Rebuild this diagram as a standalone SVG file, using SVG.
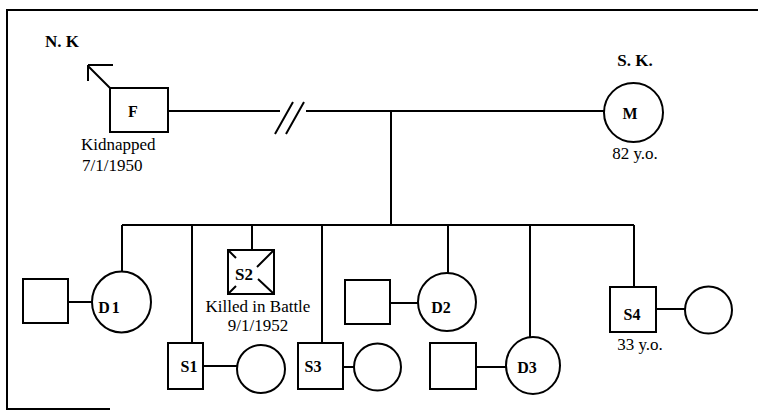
<svg xmlns="http://www.w3.org/2000/svg" width="758" height="411" viewBox="0 0 758 411">
<style>
.s{fill:#fff;stroke:#000;stroke-width:2}
.l{fill:none;stroke:#000;stroke-width:2}
.t{font-family:"Liberation Serif","Times New Roman",serif;font-size:17px;fill:#000}
.b{font-family:"Liberation Serif","Times New Roman",serif;font-size:16px;font-weight:bold;fill:#000}
</style>
<rect x="0" y="0" width="758" height="411" fill="#fff"/>
<g id="frame" class="l">
<path d="M7,10 H758 M7,9 V410 M7,409 H110"/>
</g>
<g id="connectors" class="l">
<path d="M168,111 H280 M306,111 H604"/>
<path d="M275,134 L293,102 M286,134 L304,102"/>
<path d="M391,111 V225"/>
<path d="M122,225 H634"/>
<path d="M122,225 V272 M192,225 V343 M252,225 V250 M322,225 V343 M448,225 V273 M530,225 V337 M634,225 V287"/>
<path d="M68,302 H92 M203,366 H237 M343,367 H354 M390,303 H418 M476,367 H506 M656,309 H685"/>
</g>
<g id="F">
<rect class="s" x="110" y="88" width="58" height="44"/>
<path class="l" d="M110,88 L88,66 M88,65 H113 M88,65 V81"/>
<text class="b" x="133" y="117" text-anchor="middle">F</text>
<text class="b" x="45" y="47" style="font-size:17px">N. K</text>
<text class="t" x="81" y="150">Kidnapped</text>
<text class="t" x="82" y="171">7/1/1950</text>
</g>
<g id="M">
<circle class="s" cx="633.5" cy="112.5" r="29.5"/>
<text class="b" x="630" y="119" text-anchor="middle">M</text>
<text class="b" x="635" y="66" text-anchor="middle" style="font-size:17px">S. K.</text>
<text class="t" x="635" y="159" text-anchor="middle">82 y.o.</text>
</g>
<g id="D1spouse"><rect class="s" x="23" y="279" width="45" height="44"/></g>
<g id="D1">
<ellipse class="s" cx="121.5" cy="302" rx="29.5" ry="30.5"/>
<text class="b" x="110" y="313" text-anchor="middle" letter-spacing="2">D1</text>
</g>
<g id="S1">
<rect class="s" x="168" y="343" width="35" height="46"/>
<text class="b" x="189" y="372" text-anchor="middle">S1</text>
</g>
<g id="S1spouse"><circle class="s" cx="261" cy="369" r="24"/></g>
<g id="S2">
<rect class="s" x="228" y="250" width="46" height="44"/>
<path class="l" d="M228,250 L236,258 M274,250 L257,267 M228,294 L236,286 M274,294 L258,279"/>
<text class="b" x="244" y="280" text-anchor="middle" style="font-size:17px">S2</text>
<text class="t" x="258" y="312" text-anchor="middle">Killed in Battle</text>
<text class="t" x="258" y="331" text-anchor="middle">9/1/1952</text>
</g>
<g id="S3">
<rect class="s" x="298" y="343" width="45" height="46"/>
<text class="b" x="313" y="372" text-anchor="middle">S3</text>
</g>
<g id="S3spouse"><circle class="s" cx="377.5" cy="367" r="23.5"/></g>
<g id="D2spouse"><rect class="s" x="345" y="280" width="45" height="44"/></g>
<g id="D2">
<circle class="s" cx="447" cy="302" r="29"/>
<text class="b" x="441" y="313" text-anchor="middle">D2</text>
</g>
<g id="D3spouse"><rect class="s" x="430" y="343" width="46" height="46"/></g>
<g id="D3">
<ellipse class="s" cx="533" cy="365.5" rx="27" ry="28.5"/>
<text class="b" x="527" y="373" text-anchor="middle">D3</text>
</g>
<g id="S4">
<rect class="s" x="610" y="287" width="46" height="45"/>
<text class="b" x="632" y="320" text-anchor="middle">S4</text>
<text class="t" x="640" y="350" text-anchor="middle">33 y.o.</text>
</g>
<g id="S4spouse"><circle class="s" cx="708.5" cy="310" r="23.5"/></g>
</svg>
